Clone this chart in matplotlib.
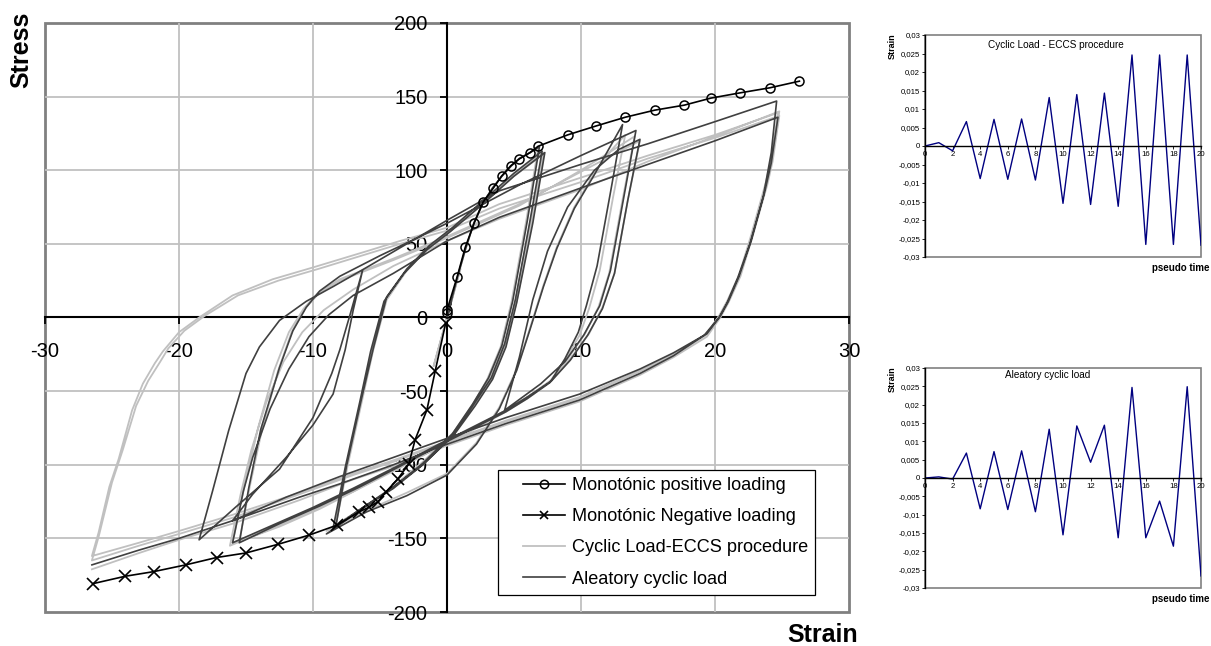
import matplotlib
matplotlib.use("Agg")
import matplotlib.pyplot as plt
from matplotlib.legend_handler import HandlerLine2D
import numpy as np

plt.rcParams['font.family'] = ['Liberation Sans', 'DejaVu Sans']
plt.rcParams['axes.unicode_minus'] = False

# monotonic tests (strain x1000, stress)
mono_pos_strain = [0, 0, 0.76, 1.36, 2.03, 2.68, 3.45, 4.07, 4.75, 5.4, 6.2, 6.8, 9.0, 11.1, 13.3, 15.5, 17.7, 19.7, 21.9, 24.1, 26.3]
mono_pos_stress = [3, 5, 27.7, 47.6, 64.2, 78.2, 87.8, 96, 103, 107.7, 112, 116.3, 124, 130, 136, 140.8, 144.2, 149, 152.6, 156, 160.5]
mono_neg_strain = [-0.1, -0.88, -1.5, -2.38, -2.85, -3.68, -4.55, -5.17, -5.85, -6.6, -8.2, -10.3, -12.6, -15.0, -17.2, -19.5, -21.9, -24.0, -26.4]
mono_neg_stress = [-3.9, -36.3, -62.8, -83, -99.5, -109.7, -118.4, -125.2, -129, -132.2, -141, -147.8, -154, -159.9, -163, -168, -172.6, -175.7, -180.7]

# cyclic ECCS procedure, branch by branch (strain, stress)
eccs_branches = [
    [(0, 0), (1, 33), (-1, -33), (0, 0), (0.8, 28), (1.4, 47), (2.0, 64), (2.7, 78), (3.4, 88), (4.1, 96), (4.8, 103), (5.4, 108), (6.2, 112), (6.8, 115)],
    [(6.8, 115), (5.9, 65), (4.8, 10), (4.0, -20), (3.0, -42), (1.9, -60), (0.4, -80), (-1.8, -100), (-4.0, -116), (-6.0, -128), (-8.3, -141)],
    [(-8.3, -141), (-7.4, -100), (-6.3, -55), (-5.5, -22), (-4.5, 12), (-3.0, 32), (-1.3, 48), (0.4, 60), (2.9, 80), (5.0, 97), (7.2, 112)],
    [(7.2, 112), (6.2, 64), (5.1, 11), (4.3, -18), (3.2, -40), (2.0, -58), (0.5, -78), (-1.7, -98), (-4.0, -115), (-6.1, -128), (-8.4, -142)],
    [(-8.4, -142), (-7.5, -101), (-6.4, -56), (-5.6, -22), (-4.6, 12), (-3.1, 31), (-1.4, 47), (0.3, 59), (2.9, 79), (5.0, 96), (7.2, 111)],
    [(7.2, 111), (6.3, 64), (5.2, 11), (4.4, -18), (3.4, -40), (2.1, -58), (0.5, -78), (-1.8, -98), (-4.2, -116), (-6.4, -130), (-9.0, -145)],
    [(-9.0, -145), (-6.0, -131), (-3.0, -119), (0.0, -106), (2.2, -85), (3.9, -61), (5.2, -35), (6.2, -7), (7.2, 22), (8.2, 48), (9.5, 75), (11.0, 98), (12.2, 113), (13.3, 124)],
    [(13.3, 124), (12.4, 82), (11.4, 32), (10.6, 6), (9.9, -12), (8.8, -29), (7.7, -44), (6.0, -55), (4.4, -64), (2.0, -76), (-0.6, -88), (-3.5, -102), (-6.5, -116), (-9.5, -130), (-12.5, -142), (-15.5, -152)],
    [(-15.5, -152), (-14.7, -114), (-13.8, -76), (-12.6, -36), (-11.6, -10), (-10.6, 6), (-9.5, 17), (-8.0, 25), (-4.0, 39), (0.0, 54), (5.4, 76), (10.0, 100), (14.0, 123)],
    [(14.0, 123), (13.1, 80), (12.1, 30), (11.3, 7), (10.3, -11), (9.0, -28), (7.7, -43), (6.0, -54), (4.4, -63), (2.0, -75), (-0.6, -87), (-3.5, -101), (-7.0, -118), (-10.0, -131), (-13.0, -142), (-16.0, -153)],
    [(-16.0, -153), (-15.1, -114), (-14.1, -75), (-12.9, -36), (-11.8, -10), (-10.7, 6), (-9.6, 17), (-8.0, 26), (-4.0, 40), (0.0, 55), (5.4, 77), (10.0, 99), (14.4, 120)],
    [(14.4, 120), (13.5, 80), (12.5, 30), (11.6, 7), (10.6, -11), (9.2, -28), (7.8, -43), (6.0, -54), (4.4, -63), (2.0, -75), (-0.6, -87), (-3.5, -101), (-7.0, -118), (-10.0, -131), (-13.0, -143), (-16.2, -155)],
    [(-16.2, -155), (-15.4, -120), (-14.6, -90), (-13.5, -58), (-12.2, -30), (-10.8, -10), (-9.2, 5), (-7.0, 19), (-4.0, 35), (0.0, 52), (3.9, 67), (10.0, 87), (15.0, 106), (20.0, 123), (24.8, 140)],
    [(24.8, 140), (24.3, 110), (23.9, 93), (22.8, 57), (21.9, 30), (21.0, 12), (20.4, 2), (19.4, -11), (16.9, -25), (14.4, -36), (9.9, -54), (4.4, -70), (-0.6, -86), (-4.0, -97), (-7.0, -106), (-11.0, -119), (-16.0, -134), (-20.0, -145), (-23.0, -153), (-26.5, -162)],
    [(-26.5, -162), (-26.0, -146), (-25.2, -115), (-24.5, -96), (-23.5, -63), (-22.7, -45), (-21.8, -31), (-21.2, -23), (-20.0, -10), (-18.5, 0), (-16.0, 15), (-13.0, 26), (-10.0, 34), (-6.0, 45), (-3.5, 52), (0.0, 61), (3.9, 77), (10.0, 95), (15.0, 110), (20.0, 124), (24.7, 139)],
    [(24.7, 139), (24.2, 108), (23.8, 92), (22.7, 56), (21.8, 29), (20.9, 11), (20.3, 1), (19.3, -12), (16.8, -26), (14.3, -37), (9.8, -55), (4.3, -71), (-0.7, -87), (-4.0, -98), (-7.0, -107), (-11.0, -120), (-16.0, -136), (-20.0, -147), (-23.0, -155), (-26.5, -165)],
    [(-26.5, -165), (-26.0, -149), (-25.0, -112), (-24.2, -90), (-23.2, -60), (-22.3, -43), (-21.4, -30), (-20.8, -21), (-19.6, -9), (-18.1, 1), (-15.6, 15), (-12.6, 25), (-9.6, 33), (-6.0, 43), (-3.5, 50), (0.0, 59), (3.9, 74), (10.0, 92), (15.0, 108), (20.0, 122), (24.8, 137)],
    [(24.8, 137), (24.3, 106), (23.9, 90), (22.8, 55), (21.9, 28), (21.0, 10), (20.4, 0), (19.4, -13), (16.9, -27), (14.4, -39), (9.9, -57), (4.4, -73), (-0.6, -89), (-4.0, -101), (-7.0, -110), (-11.0, -124), (-16.0, -140), (-20.0, -151), (-23.0, -160), (-26.5, -171)],
]

# aleatory cyclic load, branch by branch (strain, stress)
aleat_branches = [
    [(0, 0), (0.3, 10), (0, 0), (0.8, 28), (1.4, 47), (2.0, 64), (2.7, 78), (3.4, 88), (4.1, 96), (4.8, 103), (5.4, 108), (6.2, 112), (6.9, 116)],
    [(6.9, 116), (6.0, 66), (4.9, 11), (4.1, -19), (3.1, -41), (1.9, -59), (0.4, -79), (-1.8, -99), (-4.1, -116), (-6.1, -128), (-8.3, -142)],
    [(-8.3, -142), (-7.5, -101), (-6.4, -56), (-5.5, -21), (-4.5, 14), (-3.0, 33), (-1.3, 49), (0.4, 61), (2.9, 81), (5.0, 98), (7.1, 113)],
    [(7.1, 113), (6.2, 66), (5.1, 12), (4.3, -18), (3.3, -41), (2.0, -59), (0.5, -79), (-1.7, -99), (-4.0, -116), (-6.1, -128), (-8.5, -143)],
    [(-8.5, -143), (-7.6, -102), (-6.5, -57), (-5.7, -23), (-4.7, 11), (-3.2, 30), (-1.5, 46), (0.2, 58), (2.8, 78), (5.0, 96), (7.3, 112)],
    [(7.3, 112), (6.4, 64), (5.2, 10), (4.4, -20), (3.4, -42), (2.1, -60), (0.5, -80), (-1.8, -100), (-4.3, -117), (-6.5, -131), (-9.0, -147)],
    [(-9.0, -147), (-6.0, -132), (-3.0, -121), (0.0, -107), (2.2, -86), (3.9, -62), (5.2, -36), (6.2, -8), (7.2, 21), (8.2, 47), (9.5, 74), (11.0, 97), (12.3, 118), (13.1, 131)],
    [(13.1, 131), (12.2, 85), (11.2, 35), (10.4, 8), (9.8, -10), (8.8, -28), (7.7, -44), (6.0, -55), (4.4, -64), (2.0, -75), (-0.6, -87), (-3.5, -101), (-6.5, -115), (-9.5, -128), (-12.5, -140), (-15.5, -153)],
    [(-15.5, -153), (-14.8, -116), (-13.9, -76), (-12.5, -34), (-11.5, -9), (-10.5, 7), (-9.5, 18), (-8.0, 28), (-5.0, 42), (-2.0, 55), (0.0, 64), (5.4, 90), (10.0, 110), (14.1, 127)],
    [(14.1, 127), (13.2, 82), (12.2, 32), (11.4, 8), (10.2, -12), (8.8, -30), (7.0, -45), (5.5, -55), (4.3, -63)],
    [(4.3, -63), (5.4, -27), (6.4, 12), (7.5, 45), (9.0, 75), (11.0, 100), (12.8, 114), (14.4, 121)],
    [(14.4, 121), (13.5, 80), (12.5, 30), (11.6, 6), (10.5, -12), (9.2, -29), (7.8, -43), (6.0, -54), (4.4, -63), (2.0, -74), (-0.6, -86), (-3.5, -100), (-7.0, -116), (-10.0, -129), (-13.0, -141), (-16.0, -153)],
    [(-16.0, -153), (-15.2, -118), (-14.5, -95), (-13.2, -62), (-11.8, -35), (-10.3, -13), (-8.8, 2), (-7.0, 15), (-4.0, 30), (0.0, 52), (3.9, 68), (10.0, 88), (15.0, 104), (20.0, 120), (24.7, 136)],
    [(24.7, 136), (24.2, 105), (23.7, 85), (22.7, 52), (21.8, 28), (21.0, 11), (20.4, 1), (19.4, -11), (16.9, -24), (14.4, -35), (9.9, -52), (4.4, -68), (-0.6, -84), (-4.0, -95), (-8.0, -108), (-12.0, -122), (-16.0, -138)],
    [(-16.0, -138), (-14.5, -120), (-12.0, -95), (-10.0, -73), (-8.5, -52), (-7.6, -22), (-7.0, 5), (-6.3, 32)],
    [(-6.3, 32), (-7.2, 3), (-8.0, -22), (-8.6, -38), (-10.0, -68), (-12.5, -103), (-15.8, -129), (-18.5, -151)],
    [(-18.5, -151), (-17.5, -118), (-16.3, -77), (-15.0, -38), (-14.0, -20), (-12.5, -2), (-10.5, 11), (-8.5, 21), (-6.0, 34), (-3.0, 50), (0.0, 66), (3.9, 86), (10.0, 104), (15.0, 118), (20.0, 133), (24.6, 147)],
    [(24.6, 147), (24.2, 112), (23.6, 82), (22.6, 50), (21.7, 27), (20.9, 10), (20.3, 0), (19.2, -12), (16.9, -26), (14.4, -38), (9.9, -56), (4.4, -72), (-0.6, -88), (-4.0, -100), (-8.0, -113), (-11.0, -122), (-16.0, -138), (-20.0, -150), (-23.0, -158), (-26.5, -168)],
]

# strain histories of the two insets
pseudo_time = list(range(21))
eccs_history = [0, 0.0009, -0.0013, 0.0066, -0.0088, 0.0072, -0.009, 0.0073, -0.0092, 0.0131, -0.0155,
                0.0139, -0.0158, 0.0143, -0.0163, 0.0246, -0.0266, 0.0246, -0.0266, 0.0246, -0.0268]
aleat_history = [0, 0.0003, -0.0003, 0.0068, -0.0084, 0.0072, -0.0086, 0.0074, -0.0092, 0.0133, -0.0155,
                 0.0142, 0.0043, 0.0144, -0.0163, 0.0247, -0.0163, -0.0063, -0.0186, 0.0249, -0.0267]

main_xticks = [-30, -20, -10, 0, 10, 20, 30]
main_yticks = [-200, -150, -100, -50, 0, 50, 100, 150, 200]
legend_labels = ['Monotónic positive loading', 'Monotónic Negative loading',
                 'Cyclic Load-ECCS procedure', 'Aleatory cyclic load']

W, H = 1211, 646
fig = plt.figure(figsize=(W / 100, H / 100), dpi=100)

ax = fig.add_axes([45 / W, 1 - 612 / H, 804 / W, 589 / H])
ax.set_xlim(-30, 30)
ax.set_ylim(-200, 200)

for x in [-20, -10, 10, 20]:
    ax.axvline(x, color='#c0c0c0', lw=1.3, zorder=0)
for y in [-150, -100, -50, 50, 100, 150]:
    ax.axhline(y, color='#c0c0c0', lw=1.3, zorder=0)

ax.patch.set_edgecolor('#808080')
ax.patch.set_linewidth(2)
for s in ['top', 'right']:
    ax.spines[s].set_visible(False)
ax.spines['left'].set_position(('data', 0))
ax.spines['bottom'].set_position(('data', 0))
ax.spines['left'].set_linewidth(1.5)
ax.spines['bottom'].set_linewidth(1.5)
ax.spines['left'].set_zorder(1)
ax.spines['bottom'].set_zorder(1)

ax.set_xticks(main_xticks)
ax.set_yticks(main_yticks)
ax.tick_params(axis='x', direction='out', length=5, width=1.3, pad=13, labelsize=14.5)
ax.tick_params(axis='y', direction='out', length=5, width=1.3, pad=9, labelsize=14.5)


def join(branches):
    pts = []
    for b in branches:
        pts.extend(b if not pts else b[1:])
    a = np.array(pts)
    return a[:, 0], a[:, 1]


ex, ey = join(eccs_branches)
axs, ays = join(aleat_branches)
l3, = ax.plot(ex, ey, color='#c0c0c0', lw=1.3, zorder=2)
l4, = ax.plot(axs, ays, color='#404040', lw=1.2, zorder=3)
l1, = ax.plot(mono_pos_strain, mono_pos_stress, color='black', lw=1.2, marker='o', ms=6.5,
              mfc='none', mec='black', mew=1.1, zorder=4)
l2, = ax.plot(mono_neg_strain, mono_neg_stress, color='black', lw=1.2, marker='x', ms=9,
              mec='black', mew=1.2, zorder=4)


class IndentedLine(HandlerLine2D):
    # leaves some white space before the sample line, like the original legend
    def create_artists(self, legend, orig_handle, xdescent, ydescent, width, height, fontsize, trans):
        shift = 13
        return super().create_artists(legend, orig_handle, xdescent - shift, ydescent,
                                      width - shift, height, fontsize, trans)


leg = ax.legend([l1, l2, l3, l4], legend_labels,
                loc='lower left', bbox_to_anchor=(0.563, 0.029), fontsize=13.1,
                frameon=True, fancybox=False, framealpha=1, edgecolor='black',
                handlelength=3.3, borderpad=0.4, labelspacing=0.78, handletextpad=0.38,
                borderaxespad=0, handler_map={l1: IndentedLine(), l2: IndentedLine(),
                                              l3: IndentedLine(), l4: IndentedLine()})
leg.get_frame().set_linewidth(0.9)
for h in leg.legend_handles[:2]:
    h.set_markersize(6)

fig.text(21 / W, 1 - 50 / H, 'Stress', rotation=90, ha='center', va='center',
         fontsize=18, fontweight='bold')
fig.text(858 / W, 1 - 642 / H, 'Strain', ha='right', va='baseline',
         fontsize=18, fontweight='bold')


def inset(top, bottom, values, title, tx, ty):
    iax = fig.add_axes([925 / W, 1 - bottom / H, 276 / W, (bottom - top) / H])
    iax.plot(pseudo_time, values, color='#000080', lw=1.0)
    iax.set_xlim(0, 20)
    iax.set_ylim(-0.03, 0.03)
    iax.patch.set_edgecolor('#808080')
    iax.patch.set_linewidth(1.2)
    for s in ['top', 'right']:
        iax.spines[s].set_visible(False)
    iax.spines['bottom'].set_position(('data', 0))
    iax.spines['bottom'].set_linewidth(1.0)
    iax.spines['left'].set_linewidth(1.0)
    yt = np.arange(-6, 7) * 0.005
    iax.set_yticks(yt)
    iax.set_yticklabels([('%g' % v).replace('.', ',') for v in np.round(yt, 3)])
    iax.set_xticks(range(0, 21, 2))
    iax.tick_params(axis='both', labelsize=5.6, length=2, width=0.6, pad=1.5)
    iax.text(tx, ty, title, transform=iax.transAxes, ha='center', va='center', fontsize=7.2)
    fig.text(892 / W, 1 - (top + 11) / H, 'Strain', rotation=90, ha='center', va='center',
             fontsize=6.5, fontweight='bold')
    fig.text(1209 / W, 1 - (bottom + 11) / H, 'pseudo time', ha='right', va='center',
             fontsize=7, fontweight='bold')


inset(35, 257, eccs_history, 'Cyclic Load - ECCS procedure', 0.475, 0.953)
inset(368, 588, aleat_history, 'Aleatory cyclic load', 0.444, 0.97)

fig.savefig('out.png', dpi=100)
